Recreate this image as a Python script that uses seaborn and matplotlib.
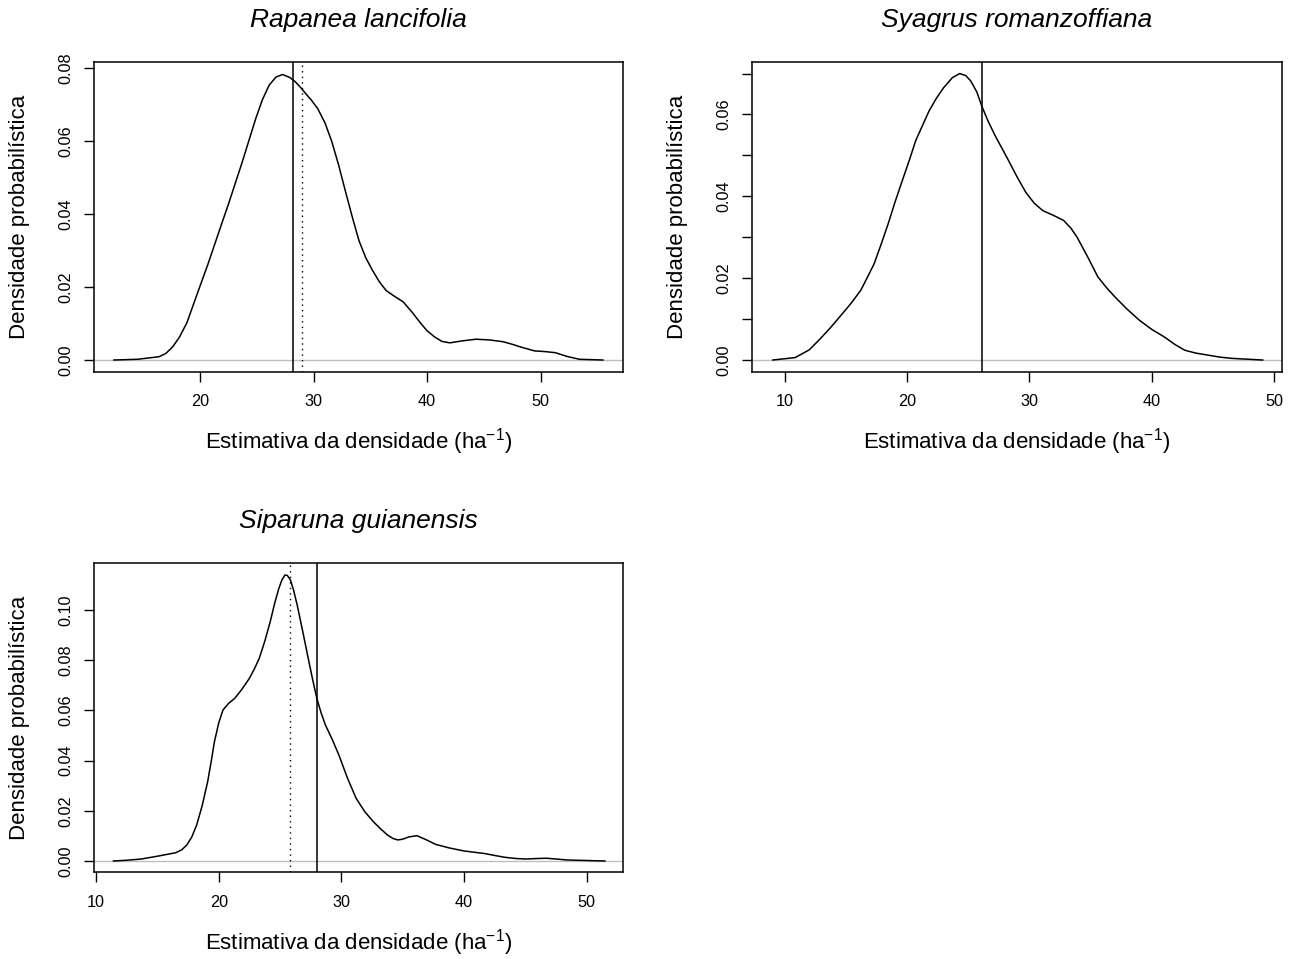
import matplotlib
matplotlib.use("Agg")
import matplotlib.pyplot as plt
import seaborn as sns
import numpy as np

# ---------------- data ----------------
titles = ["Rapanea lancifolia", "Syagrus romanzoffiana", "Siparuna guianensis"]
xlabel_text = r"Estimativa da densidade (ha$^{-1}$)"
ylabel_text = "Densidade probabilística"

x_rap = [12.4, 14.5, 16.4, 17.0, 17.6, 18.2, 18.85, 19.4, 20.06, 20.7, 21.3, 21.9, 22.5, 23.1,
         23.7, 24.3, 24.9, 25.5, 26.1, 26.7, 27.27, 27.9, 28.4, 28.9, 29.3, 29.8, 30.36, 31.0,
         31.6, 32.2, 32.8, 33.4, 34.0, 34.6, 35.2, 35.8, 36.4, 37.1, 37.9, 38.7, 39.45, 40.0,
         40.67, 41.3, 42.0, 43.0, 44.3, 45.5, 46.7, 47.5, 48.2, 49.45, 50.4, 51.3, 52.3, 53.4, 55.5]
y_rap = [0.0000, 0.0002, 0.0009, 0.0018, 0.0036, 0.0063, 0.0102, 0.0150, 0.0207, 0.0262, 0.0317,
         0.0372, 0.0426, 0.0483, 0.0540, 0.0600, 0.0660, 0.0713, 0.0753, 0.0775, 0.0782, 0.0774,
         0.0762, 0.0745, 0.0730, 0.0712, 0.0689, 0.0650, 0.0599, 0.0535, 0.0463, 0.0393, 0.0327,
         0.0280, 0.0245, 0.0214, 0.0190, 0.0175, 0.0159, 0.0130, 0.0100, 0.0080, 0.0063, 0.0051,
         0.0047, 0.0052, 0.0057, 0.0055, 0.0050, 0.0043, 0.0036, 0.0025, 0.0023, 0.0020, 0.0010,
         0.0002, 0.0000]

x_sya = [9.0, 10.85, 12.0, 12.8, 13.7, 14.5, 15.4, 16.2, 16.8, 17.3, 17.9, 18.45, 19.0, 19.6,
         20.2, 20.7, 21.3, 21.8, 22.4, 23.0, 23.7, 24.3, 24.8, 25.2, 25.7, 26.1, 26.6, 27.2,
         27.8, 28.3, 29.0, 29.7, 30.4, 31.1, 32.0, 32.8, 33.4, 33.9, 34.8, 35.6, 36.3, 37.0,
         38.0, 39.0, 40.0, 41.0, 41.9, 42.7, 43.6, 44.6, 45.6, 46.6, 49.1]
y_sya = [0.0000, 0.0006, 0.0025, 0.0049, 0.0078, 0.0106, 0.0138, 0.0170, 0.0205, 0.0235, 0.0285,
         0.0333, 0.0385, 0.0438, 0.0490, 0.0536, 0.0576, 0.0609, 0.0640, 0.0666, 0.0690, 0.0700,
         0.0695, 0.0682, 0.0655, 0.0621, 0.0585, 0.0548, 0.0515, 0.0487, 0.0447, 0.0410, 0.0383,
         0.0365, 0.0353, 0.0341, 0.0322, 0.0300, 0.0250, 0.0203, 0.0177, 0.0154, 0.0124, 0.0097,
         0.0075, 0.0057, 0.0038, 0.0024, 0.0017, 0.0012, 0.0007, 0.0004, 0.0000]

x_sip = [11.4, 12.5, 13.7, 15.1, 16.5, 17.0, 17.4, 17.8, 18.2, 18.65, 19.1, 19.4, 19.65, 20.0,
         20.35, 20.8, 21.3, 21.9, 22.5, 22.9, 23.3, 23.75, 24.2, 24.55, 24.9, 25.15, 25.4, 25.6,
         25.85, 26.1, 26.4, 26.85, 27.3, 27.65, 28.0, 28.35, 28.7, 29.25, 29.8, 30.5, 31.2, 31.9,
         32.6, 33.2, 33.75, 34.2, 34.6, 35.0, 35.5, 36.15, 36.9, 37.7, 38.8, 40.0, 41.65, 42.5,
         43.3, 44.2, 45.0, 46.0, 46.7, 47.5, 48.4, 50.0, 51.5]
y_sip = [0.0000, 0.0003, 0.0008, 0.0020, 0.0033, 0.0045, 0.0064, 0.0095, 0.0143, 0.0220, 0.0316,
         0.0400, 0.0475, 0.0550, 0.0602, 0.0628, 0.0648, 0.0685, 0.0728, 0.0765, 0.0807, 0.0875,
         0.0954, 0.1025, 0.1086, 0.1120, 0.1140, 0.1138, 0.1120, 0.1080, 0.1020, 0.0915, 0.0807,
         0.0725, 0.0648, 0.0590, 0.0542, 0.0485, 0.0422, 0.0330, 0.0250, 0.0197, 0.0157, 0.0128,
         0.0104, 0.0090, 0.0084, 0.0087, 0.0096, 0.0101, 0.0085, 0.0066, 0.0052, 0.0040, 0.0030,
         0.0022, 0.0015, 0.0010, 0.0008, 0.0010, 0.0011, 0.0008, 0.0004, 0.0002, 0.0000]

solid_lines = [28.2, 26.1, 28.0]
dotted_lines = [29.0, None, 25.8]

xticks_list = [[20, 30, 40, 50], [10, 20, 30, 40, 50], [10, 20, 30, 40, 50]]
yticks_list = [[0.00, 0.02, 0.04, 0.06, 0.08],
               [0.00, 0.01, 0.02, 0.03, 0.04, 0.05, 0.06, 0.07],
               [0.00, 0.02, 0.04, 0.06, 0.08, 0.10]]
ytick_labels_list = [["0.00", "0.02", "0.04", "0.06", "0.08"],
                     ["0.00", "", "0.02", "", "0.04", "", "0.06", ""],
                     ["0.00", "0.02", "0.04", "0.06", "0.08", "0.10"]]

xlims = [(10.70, 57.27), (7.34, 50.63), (9.86, 52.98)]
ylims = [(-0.0032, 0.0817), (-0.00285, 0.0729), (-0.0045, 0.1189)]

# ---------------- style ----------------
sns.set_style("white")
plt.rcParams['font.family'] = ['Liberation Sans', 'DejaVu Sans']
plt.rcParams['mathtext.fontset'] = 'custom'
plt.rcParams['mathtext.rm'] = 'Liberation Sans'
plt.rcParams['mathtext.it'] = 'Liberation Sans:italic'
plt.rcParams['text.color'] = 'black'
plt.rcParams['axes.labelcolor'] = 'black'
plt.rcParams['xtick.color'] = 'black'
plt.rcParams['ytick.color'] = 'black'

fig = plt.figure(figsize=(12.98, 9.59), dpi=100)
W, H = 1298, 959
boxes = [(94.3, 61.7, 623.3, 371.7), (752.3, 61.7, 1281.7, 371.7), (94.3, 562.7, 623.3, 872.3)]

series = [(x_rap, y_rap), (x_sya, y_sya), (x_sip, y_sip)]

for i, (l, t, r, b) in enumerate(boxes):
    ax = fig.add_axes([l / W, 1 - b / H, (r - l) / W, (b - t) / H])
    xs, ys = series[i]
    ax.axhline(0, color="#BEBEBE", lw=1.0, zorder=1)
    sns.lineplot(x=xs, y=ys, ax=ax, color="black", lw=1.1, sort=False, estimator=None, zorder=3)
    ax.axvline(solid_lines[i], color="black", lw=1.1, zorder=2)
    if dotted_lines[i] is not None:
        ax.axvline(dotted_lines[i], color="black", lw=1.0, ls=(0, (1, 3)), zorder=2)
    ax.set_xlim(*xlims[i])
    ax.set_ylim(*ylims[i])
    ax.set_xticks(xticks_list[i])
    ax.set_xticklabels([str(v) for v in xticks_list[i]])
    ax.set_yticks(yticks_list[i])
    ax.set_yticklabels(ytick_labels_list[i])
    for s in ax.spines.values():
        s.set_visible(True)
        s.set_color("black")
        s.set_linewidth(1.1)
    ax.tick_params(axis="both", direction="out", length=7.2, width=1.0, color="black",
                   labelsize=11.7, labelcolor="black", left=True, bottom=True)
    ax.tick_params(axis="x", pad=9)
    ax.tick_params(axis="y", pad=8, labelrotation=90)
    for lab in ax.get_yticklabels():
        lab.set_va("center")
    ax.set_xlabel(xlabel_text, fontsize=16, va="center", color="black")
    ax.xaxis.set_label_coords(0.5, -0.2258)
    ax.set_ylabel(ylabel_text, fontsize=16, va="center", color="black")
    ax.yaxis.set_label_coords(-0.1405, 0.5)
    ax.set_title(titles[i], fontsize=19, style="italic", y=1.1345, pad=0, va="center",
                 color="black")

fig.savefig("out.png", dpi=100)
